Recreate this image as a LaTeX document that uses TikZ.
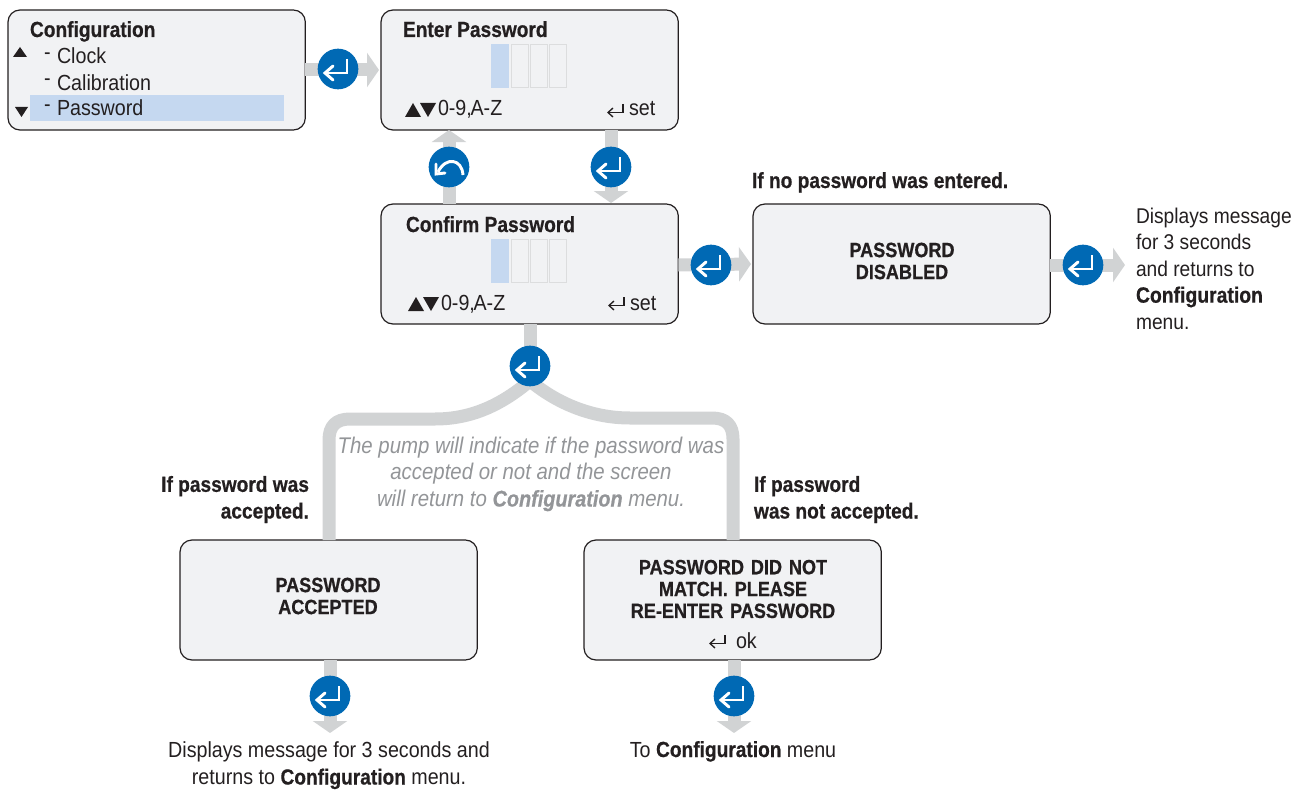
\documentclass[tikz,border=0pt]{standalone}
\usepackage{fontspec}
\setmainfont{Liberation Sans}[FakeStretch=0.9,BoldFeatures={FakeStretch=0.875,FakeBold=0.6},BoldItalicFeatures={FakeStretch=0.875,FakeBold=0.6}]
\usetikzlibrary{arrows.meta,calc}
\definecolor{flowgray}{HTML}{D1D3D4}
\definecolor{screenfill}{HTML}{F1F2F4}
\definecolor{hilite}{HTML}{C5D8F0}
\definecolor{btnblue}{HTML}{0069B4}
\definecolor{ink}{HTML}{231F20}
\definecolor{notegray}{HTML}{939598}
\definecolor{cellline}{HTML}{DCDDDE}
\tikzset{
  x=0.75pt,y=-0.75pt,
  screen/.style={draw=ink,line width=0.9pt,fill=screenfill,rounded corners=9pt,minimum width=223pt,minimum height=90pt,inner sep=0pt,outer sep=0pt},
  flow/.style={draw=flowgray,line width=9.75pt},
  flowarrow/.style={flow,-{Triangle[width=25.5pt,length=9pt,color=flowgray]}},
  btn/.style={circle,fill=btnblue,minimum size=30.5pt,inner sep=0pt,outer sep=0pt},
  txt/.style={text=ink,font=\fontsize{16.4pt}{20pt}\selectfont,inner sep=0pt,outer sep=0pt},
  title/.style={txt,font=\fontsize{16.4pt}{20pt}\selectfont\bfseries},
  boxed/.style={txt,font=\fontsize{15.5pt}{16.5pt}\selectfont\bfseries,align=center},
  note/.style={txt,text=notegray,font=\fontsize{17pt}{20pt}\selectfont\itshape,align=center},
  cell/.style={draw=cellline,line width=0.8pt,minimum width=12.6pt,minimum height=32.5pt,inner sep=0pt},
  hicell/.style={fill=hilite,minimum width=13.4pt,minimum height=33pt,inner sep=0pt},
  tri/.style={fill=ink,draw=none},
}
\newcommand{\enterglyph}[2]{% centre, colour
  \draw[#2,line width=2.2pt,line cap=butt,line join=miter]
    ($(#1)+(9,-10)$) -- ($(#1)+(9,4)$) -- ($(#1)+(-11,4)$);
  \draw[#2,line width=2.2pt,line cap=round,line join=miter]
    ($(#1)+(-5,-3)$) -- ($(#1)+(-13,4)$) -- ($(#1)+(-5,11)$);
}
\newcommand{\smallenter}[2]{% anchor centre, colour
  \draw[#2,line width=1pt] ($(#1)+(7,-7)$) -- ($(#1)+(7,1.5)$) -- ($(#1)+(-7,1.5)$);
  \draw[#2,line width=1pt] ($(#1)+(-3,-3)$) -- ($(#1)+(-8,1.5)$) -- ($(#1)+(-3,6)$);
}
\newcommand{\updown}[1]{% triangles at left edge
  \fill[tri] ($(#1)+(0,7)$) -- ($(#1)+(8,-7)$) -- ($(#1)+(16,7)$) -- cycle;
  \fill[tri] ($(#1)+(15,-7)$) -- ($(#1)+(31,-7)$) -- ($(#1)+(23,7)$) -- cycle;
}
\newcommand{\cells}[2]{% left x, top y
  \node[hicell,anchor=north west] at (#1,#2) {};
  \node[cell,anchor=north west] at (#1+20,#2) {};
  \node[cell,anchor=north west] at (#1+39,#2) {};
  \node[cell,anchor=north west] at (#1+58,#2) {};
}
\begin{document}
\begin{tikzpicture}
\useasboundingbox (0,0) rectangle (1300,792);
% screens
\node[screen,anchor=north west] (cfg) at (8,10) {};
\node[screen,anchor=north west] (enter) at (381,10) {};
\node[screen,anchor=north west] (confirm) at (381,204) {};
\node[screen,anchor=north west] (disabled) at (753,204) {};
\node[screen,anchor=north west] (accepted) at (180,540) {};
\node[screen,anchor=north west] (nomatch) at (584,540) {};
% buttons coordinates
\coordinate (b1) at (338,69);
\coordinate (b2) at (449,167);
\coordinate (b3) at (611,167);
\coordinate (b4) at (711,265);
\coordinate (b5) at (1083,265);
\coordinate (b6) at (530,366);
\coordinate (b7) at (330,696);
\coordinate (b8) at (734,696);
% free ends
\coordinate (e5) at (1125,265);
\coordinate (e7) at (330,733);
\coordinate (e8) at (734,733);
% connectors
\draw[flowarrow,shorten >=1.5pt] (cfg.east) -- (enter.west);
\draw[flowarrow] (confirm.north -| b2) -- (enter.south -| b2);
\draw[flowarrow] (enter.south -| b3) -- ($(confirm.north -| b3)+(0,-1)$);
\draw[flowarrow,shorten >=1.5pt] (b4 -| confirm.east) -- (disabled.west);
\draw[flowarrow] (b5 -| disabled.east) -- (e5);
\draw[flowarrow] (accepted.south -| b7) -- (e7);
\draw[flowarrow] (nomatch.south -| b8) -- (e8);
\draw[flow] (confirm.south -| b6) -- (b6);
\draw[flow] (531,380) .. controls (505,402) and (475,419) .. (435,419) -- (350,419) .. controls (336,419) and (329,426) .. (329,440) -- (329,540);
\draw[flow] (529,380) .. controls (555,402) and (590,418) .. (630,418) -- (712,418) .. controls (726,418) and (733,425) .. (733,439) -- (733,540);
% buttons
\node[btn] (n1) at (b1) {};
\node[btn] (n2) at (b2) {};
\node[btn] (n3) at (b3) {};
\node[btn] (n4) at (b4) {};
\node[btn] (n5) at (b5) {};
\node[btn] (n6) at (b6) {};
\node[btn] (n7) at (b7) {};
\node[btn] (n8) at (b8) {};
\enterglyph{b1}{white}
\enterglyph{b3}{white}
\enterglyph{b4}{white}
\enterglyph{b5}{white}
\enterglyph{b6}{white}
\enterglyph{b7}{white}
\enterglyph{b8}{white}
% back glyph
\draw[white,line width=2.2pt] ($(b2)+(14,8)$) .. controls ($(b2)+(13,-8)$) and ($(b2)+(-3,-11)$) .. ($(b2)+(-11,5)$);
\draw[white,line width=2.2pt,line cap=round] ($(b2)+(-13,-3)$) -- ($(b2)+(-13,7)$) -- ($(b2)+(-4,6)$);
% config screen
\fill[hilite] (30,95) rectangle (284,121);
\node[title,anchor=base west] (t1) at (30,37) {Configuration};
\node[txt,anchor=base west] (t2) at (57,64) {Clock};
\node[txt,anchor=base west] (t3) at (57,90) {Calibration};
\node[txt,anchor=base west] (t4) at (57,116) {Password};
\node[txt,anchor=base west] (d2) at (44,60) {-};
\node[txt,anchor=base west] (d3) at (44,86) {-};
\node[txt,anchor=base west] (d4) at (44,112) {-};
\fill[tri] (13,57) -- (27,57) -- (20,47) -- cycle;
\fill[tri] (15,107) -- (28,107) -- (21.5,117) -- cycle;
% enter password
\node[title,anchor=base west] (t5) at (403,37) {Enter Password};
\cells{491}{44}
\updown{405,110}
\node[txt,anchor=base west] (t6) at (438,116) {0-9,\kern-1pt A-Z};
\smallenter{616,111}{ink}
\node[txt,anchor=base west] (t7) at (629,116) {set};
% confirm
\node[title,anchor=base west] (t8) at (406,232) {Confirm Password};
\cells{491}{239}
\updown{408,304}
\node[txt,anchor=base west] (t9) at (441,310) {0-9,\kern-1pt A-Z};
\smallenter{617,304}{ink}
\node[txt,anchor=base west] (t10) at (630,310) {set};
% disabled
\node[title,anchor=base west] (t11) at (752,188) {If no password was entered.};
\node[boxed] (t12) at (902,261) {PASSWORD\\DISABLED};
\node[txt,anchor=north west,align=left,font=\fontsize{16pt}{19.8pt}\selectfont] (t13) at (1136,208) {Displays message\\for 3 seconds\\and returns to\\\textbf{\fontsize{16.6pt}{19.8pt}\selectfont Configuration}\\menu.};
% note
\node[note] (t14) at (531,474) {The pump will indicate if the password was\\accepted or not and the screen\\will return to \textbf{Configuration} menu.};
% branches
\node[title,anchor=north east,align=right] (t15) at (309,476) {If password was\\accepted.};
\node[title,anchor=north west,align=left] (t16) at (754,476) {If password\\was not accepted.};
% accepted
\node[boxed] (t17) at (328,596) {PASSWORD\\ACCEPTED};
\node[txt,align=center,anchor=north] (t18) at (329,742) {Displays message for 3 seconds and\\returns to \textbf{Configuration} menu.};
% no match
\node[boxed,text width=220pt,font=\fontsize{15.5pt}{16.4pt}\selectfont\bfseries] (t19) at (733,589) {PASSWORD DID NOT\\MATCH. PLEASE\\RE-ENTER PASSWORD};
\smallenter{718,642}{ink}
\node[txt,anchor=base west] (t20) at (736,648) {ok};
\node[txt,anchor=base] (t21) at (733,757) {To \textbf{Configuration} menu};
\end{tikzpicture}
\end{document}
